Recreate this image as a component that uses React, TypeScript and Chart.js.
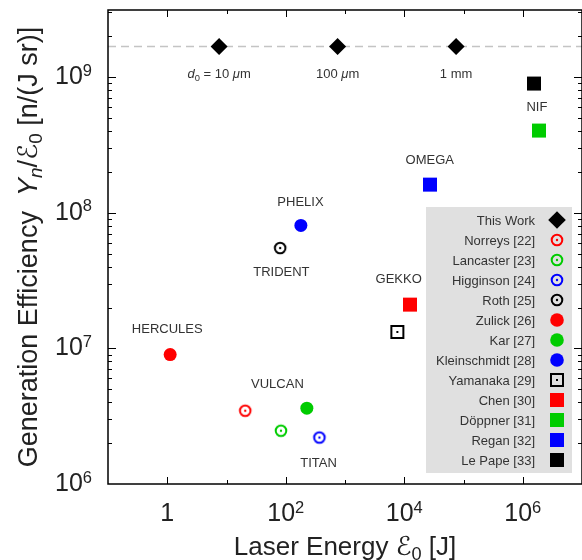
import React, { useEffect, useRef } from 'react';
import { Chart, registerables } from 'chart.js';

Chart.register(...registerables);

// ---------- axes ----------
const xMin = 0.1;
const xMax = 1e7;
const yMin = 1e6;
const yMax = 3.12e9;
const xTickValues = [1, 1e2, 1e4, 1e6];
const xTickLabels = ['1', '10^2', '10^4', '10^6'];
const yTickValues = [1e6, 1e7, 1e8, 1e9];
const yTickLabels = ['10^6', '10^7', '10^8', '10^9'];
const xTitle = 'Laser Energy ℰ_0 [J]';
const yTitle = 'Generation Efficiency  *Y*_*n*/ℰ_0 [n/(J sr)]';

// ---------- this work ----------
const thisWorkName = 'This Work';
const thisWorkEnergy = [7.5, 750, 75000];
const thisWorkEfficiency = [1.68e9, 1.68e9, 1.68e9];
const thisWorkLabels = ['*d*_0 = 10 *μ*m', '100 *μ*m', '1 mm'];
const guideLevel = 1.68e9;

// ---------- literature ----------
const refNames = [
  'Norreys [22]', 'Lancaster [23]', 'Higginson [24]', 'Roth [25]',
  'Zulick [26]', 'Kar [27]', 'Kleinschmidt [28]', 'Yamanaka [29]',
  'Chen [30]', 'Döppner [31]', 'Regan [32]', 'Le Pape [33]',
];
const refEnergy = [20.7, 83, 370, 80.5, 1.12, 227, 180, 7650, 12500, 1.88e6, 27200, 1.55e6];
const refEfficiency = [3.47e6, 2.47e6, 2.2e6, 5.49e7, 9.0e6, 3.62e6, 8.05e7, 1.32e7, 2.1e7, 4.03e8, 1.61e8, 8.95e8];
const refColors = [
  '#ff0000', '#00cc00', '#0000ff', '#000000',
  '#ff0000', '#00cc00', '#0000ff', '#000000',
  '#ff0000', '#00cc00', '#0000ff', '#000000',
];
const refMarkers = [
  'ringDot', 'ringDot', 'ringDot', 'ringDot',
  'circle', 'circle', 'circle', 'squareDot',
  'rect', 'rect', 'rect', 'rect',
];

// ---------- facility annotations (anchored in data units) ----------
const facilityNames = ['VULCAN', 'TITAN', 'TRIDENT', 'HERCULES', 'PHELIX', 'GEKKO', 'OMEGA', 'NIF'];
const facilityLabelEnergy = [72.3, 357, 84.4, 1.0, 177, 8040, 26900, 1.73e6];
const facilityLabelEfficiency = [5.46e6, 1.43e6, 3.65e7, 1.39e7, 1.2e8, 3.24e7, 2.44e8, 6.01e8];

const FONT = '"Liberation Sans", Arial, Helvetica, "DejaVu Sans", sans-serif';

type Seg = { t: string; it: boolean; mode: '' | 'sub' | 'sup' };

function parseRich(s: string): Seg[] {
  const segs: Seg[] = [];
  let it = false;
  let pend: '' | 'sub' | 'sup' = '';
  for (const ch of s) {
    if (ch === '*') { it = !it; continue; }
    if (ch === '_') { pend = 'sub'; continue; }
    if (ch === '^') { pend = 'sup'; continue; }
    const mode = pend;
    pend = '';
    const last = segs[segs.length - 1];
    if (last && last.it === it && last.mode === '' && mode === '') last.t += ch;
    else segs.push({ t: ch, it, mode });
  }
  return segs;
}

function drawRich(
  ctx: CanvasRenderingContext2D, s: string, x: number, y: number, size: number,
  align: 'center' | 'right' | 'left', color: string,
  o: { subScale?: number; subDrop?: number; supScale?: number; supRise?: number } = {},
) {
  const subScale = o.subScale ?? 0.7;
  const subDrop = o.subDrop ?? 0.22;
  const supScale = o.supScale ?? 0.64;
  const supRise = o.supRise ?? 0.34;
  const segs = parseRich(s);
  const fontOf = (g: Seg) => {
    const sz = g.mode === 'sub' ? size * subScale : g.mode === 'sup' ? size * supScale : size;
    return `${g.it ? 'italic ' : ''}${sz}px ${FONT}`;
  };
  const widths = segs.map((g) => { ctx.font = fontOf(g); return ctx.measureText(g.t).width; });
  const total = widths.reduce((a, b) => a + b, 0);
  let cx = align === 'center' ? x - total / 2 : align === 'right' ? x - total : x;
  ctx.fillStyle = color;
  ctx.textAlign = 'left';
  ctx.textBaseline = 'alphabetic';
  segs.forEach((g, i) => {
    ctx.font = fontOf(g);
    const dy = g.mode === 'sub' ? size * subDrop : g.mode === 'sup' ? -size * supRise : 0;
    ctx.fillText(g.t, cx, y + dy);
    cx += widths[i];
  });
}

function makeMarker(kind: string, color: string): HTMLCanvasElement {
  const c = document.createElement('canvas');
  c.width = 16;
  c.height = 16;
  const g = c.getContext('2d')!;
  g.strokeStyle = color;
  g.fillStyle = color;
  g.lineWidth = 2;
  if (kind === 'ringDot') {
    g.beginPath();
    g.arc(8, 8, 5.3, 0, Math.PI * 2);
    g.stroke();
    g.beginPath();
    g.arc(8, 8, 1.2, 0, Math.PI * 2);
    g.fill();
  } else {
    g.strokeRect(2, 2, 12, 12);
    g.fillRect(7, 7, 2, 2);
  }
  return c;
}

function pointStyleFor(kind: string, color: string): any {
  if (kind === 'ringDot' || kind === 'squareDot') return makeMarker(kind, color);
  return kind;
}

function radiusFor(kind: string): number {
  if (kind === 'circle') return 6.5;
  if (kind === 'rect') return 9.9;
  if (kind === 'rectRot') return 8.5;
  return 6;
}

function drawLegendMarker(ctx: CanvasRenderingContext2D, style: any, color: string, x: number, y: number) {
  ctx.save();
  ctx.fillStyle = color;
  if (style instanceof HTMLCanvasElement) {
    ctx.drawImage(style, x - style.width / 2, y - style.height / 2);
  } else if (style === 'circle') {
    ctx.beginPath();
    ctx.arc(x, y, 6.8, 0, Math.PI * 2);
    ctx.fill();
  } else if (style === 'rect') {
    ctx.fillRect(x - 7, y - 7, 14, 14);
  } else if (style === 'rectRot') {
    const r = 8.8;
    ctx.beginPath();
    ctx.moveTo(x - r, y);
    ctx.lineTo(x, y - r);
    ctx.lineTo(x + r, y);
    ctx.lineTo(x, y + r);
    ctx.closePath();
    ctx.fill();
  }
  ctx.restore();
}

const decorations = {
  id: 'decorations',
  afterDraw(chart: any) {
    const ctx: CanvasRenderingContext2D = chart.ctx;
    const { left, right, top, bottom } = chart.chartArea;
    const xs = chart.scales.x;
    const ys = chart.scales.y;
    ctx.save();

    // frame
    ctx.strokeStyle = '#000';
    ctx.lineWidth = 1.5;
    ctx.strokeRect(left, top, right - left, bottom - top);

    // inward ticks
    ctx.lineWidth = 1;
    ctx.beginPath();
    for (let e = Math.round(Math.log10(xMin)) + 1; e < Math.round(Math.log10(xMax)); e++) {
      const px = Math.round(xs.getPixelForValue(Math.pow(10, e))) + 0.5;
      const len = e % 2 === 0 ? 7 : 4;
      ctx.moveTo(px, bottom);
      ctx.lineTo(px, bottom - len);
      ctx.moveTo(px, top);
      ctx.lineTo(px, top + len);
    }
    for (let e = Math.round(Math.log10(yMin)); e <= Math.floor(Math.log10(yMax)); e++) {
      for (let m = 1; m <= 9; m++) {
        const v = m * Math.pow(10, e);
        if (v <= yMin || v >= yMax) continue;
        const py = Math.round(ys.getPixelForValue(v)) + 0.5;
        const len = m === 1 ? 8 : 4;
        ctx.moveTo(left, py);
        ctx.lineTo(left + len, py);
        ctx.moveTo(right, py);
        ctx.lineTo(right - len, py);
      }
    }
    ctx.stroke();

    // tick labels
    const tickOpts = { supScale: 0.66, supRise: 0.33 };
    xTickValues.forEach((v, i) => {
      drawRich(ctx, xTickLabels[i], xs.getPixelForValue(v), 521, 25, 'center', '#222', tickOpts);
    });
    yTickValues.forEach((v, i) => {
      drawRich(ctx, yTickLabels[i], 92, ys.getPixelForValue(v) + 7, 25, 'right', '#222', tickOpts);
    });

    // axis titles
    drawRich(ctx, xTitle, (left + right) / 2, 555, 26, 'center', '#222', { subScale: 0.7, subDrop: 0.2 });
    ctx.save();
    ctx.translate(37, (top + bottom) / 2);
    ctx.rotate(-Math.PI / 2);
    drawRich(ctx, yTitle, 0, 0, 27, 'center', '#222', { subScale: 0.7, subDrop: 0.2 });
    ctx.restore();

    // this-work labels
    thisWorkEnergy.forEach((v, i) => {
      const px = xs.getPixelForValue(v);
      const py = ys.getPixelForValue(thisWorkEfficiency[i]);
      drawRich(ctx, thisWorkLabels[i], px, py + 32, 13, 'center', '#333', { subScale: 0.72, subDrop: 0.22 });
    });

    // facility labels
    ctx.font = `13px ${FONT}`;
    ctx.fillStyle = '#333';
    ctx.textAlign = 'center';
    ctx.textBaseline = 'middle';
    facilityNames.forEach((n, i) => {
      ctx.fillText(n, xs.getPixelForValue(facilityLabelEnergy[i]), ys.getPixelForValue(facilityLabelEfficiency[i]));
    });

    // legend box
    const bx = 426, by = 207, bw = 146, bh = 266;
    ctx.fillStyle = '#e0e0e0';
    ctx.fillRect(bx, by, bw, bh);
    const items = chart.data.datasets.filter((d: any) => d.inLegend);
    items.forEach((d: any, i: number) => {
      const ry = 220 + 20 * i;
      ctx.font = `13px ${FONT}`;
      ctx.fillStyle = '#333';
      ctx.textAlign = 'right';
      ctx.textBaseline = 'middle';
      ctx.fillText(d.label, 535, ry + 1);
      drawLegendMarker(ctx, d.pointStyle, d.legendColor, 557, ry);
    });

    ctx.restore();
  },
};

export default function App() {
  const ref = useRef<HTMLCanvasElement | null>(null);

  useEffect(() => {
    document.body.style.margin = '0';
    const canvas = ref.current!;
    const datasets: any[] = [];
    datasets.push({
      label: thisWorkName,
      inLegend: true,
      legendColor: '#000',
      data: thisWorkEnergy.map((x, i) => ({ x, y: thisWorkEfficiency[i] })),
      pointStyle: 'rectRot',
      pointRadius: radiusFor('rectRot'),
      backgroundColor: '#000',
      borderColor: '#000',
      borderWidth: 0,
    });
    refNames.forEach((name, i) => {
      const kind = refMarkers[i];
      datasets.push({
        label: name,
        inLegend: true,
        legendColor: refColors[i],
        data: [{ x: refEnergy[i], y: refEfficiency[i] }],
        pointStyle: pointStyleFor(kind, refColors[i]),
        pointRadius: radiusFor(kind),
        backgroundColor: refColors[i],
        borderColor: refColors[i],
        borderWidth: 0,
      });
    });
    datasets.push({
      label: 'guide',
      inLegend: false,
      data: [{ x: xMin, y: guideLevel }, { x: xMax, y: guideLevel }],
      showLine: true,
      pointRadius: 0,
      borderColor: '#c4c4c4',
      borderWidth: 1.5,
      borderDash: [8, 5],
      fill: false,
    });

    const chart = new Chart(canvas, {
      type: 'scatter',
      data: { datasets },
      options: {
        animation: false,
        responsive: false,
        maintainAspectRatio: false,
        events: [],
        layout: { autoPadding: false, padding: { top: 10, right: -1, left: 108, bottom: 76 } },
        scales: {
          x: { type: 'logarithmic', min: xMin, max: xMax, display: false },
          y: { type: 'logarithmic', min: yMin, max: yMax, display: false },
        },
        plugins: { legend: { display: false }, tooltip: { enabled: false } },
      },
      plugins: [decorations],
    } as any);
    return () => chart.destroy();
  }, []);

  return (
    <div style={{ width: 582, height: 560, background: '#fff' }}>
      <canvas ref={ref} width={582} height={560} style={{ display: 'block' }} />
    </div>
  );
}
